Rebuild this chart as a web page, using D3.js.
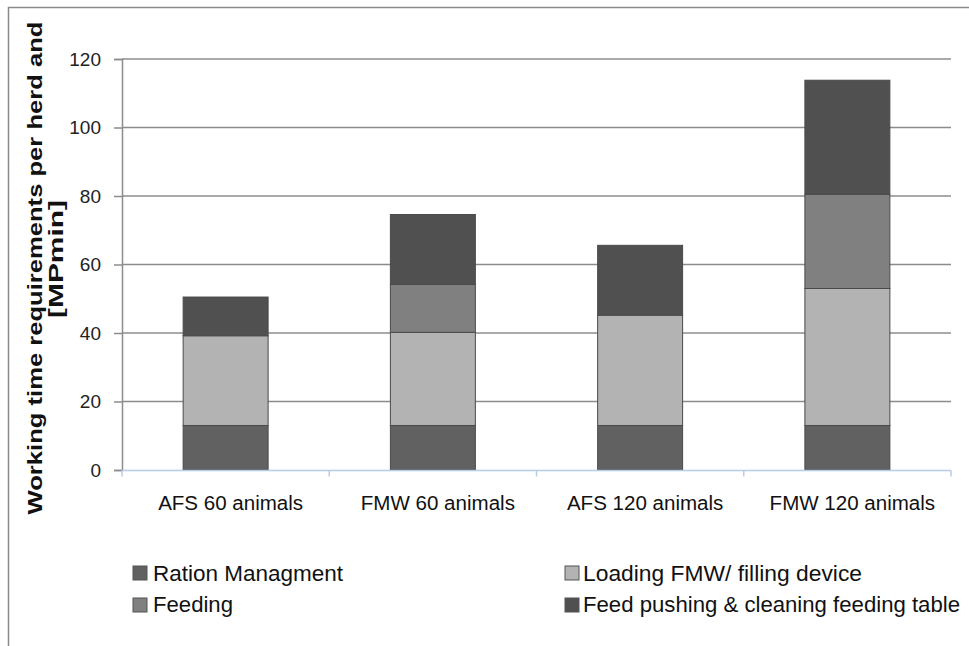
<!DOCTYPE html>
<html><head><meta charset="utf-8">
<script src="https://cdn.jsdelivr.net/npm/d3@7"></script>
<style>body{margin:0;background:#fff}svg{display:block}</style>
</head><body>
<svg id="c" width="969" height="646"></svg>
<script>
const categories = ["AFS 60 animals", "FMW 60 animals", "AFS 120 animals", "FMW 120 animals"];
const seriesNames = ["Ration Managment", "Loading FMW/ filling device", "Feeding", "Feed pushing & cleaning feeding table"];
const rationManagment = [13, 13, 13, 13];
const loadingFMW = [26.2, 27.2, 32.2, 40];
const feeding = [0, 14, 0, 27.5];
const feedPushing = [11.3, 20.4, 20.4, 33.3];
const yTicks = [0, 20, 40, 60, 80, 100, 120];
const colors = ["#616161", "#b3b3b3", "#808080", "#505050"];

const svg = d3.select("#c");
const font = "'Liberation Sans', Arial, sans-serif";

// outer frame
svg.append("path").attr("d", "M8.5,646 V7.5 H969").attr("fill", "none").attr("stroke", "#8a8a8a").attr("stroke-width", 1.5);

const x = d3.scaleBand().domain(categories).range([122, 951]).padding(0);
const y = d3.scaleLinear().domain([0, 120]).range([470, 59]);

// gridlines
svg.append("g").selectAll("line").data(yTicks.filter(d => d > 0)).join("line")
  .attr("x1", 122).attr("x2", 951)
  .attr("y1", d => y(d)).attr("y2", d => y(d))
  .attr("stroke", "#8c8c8c").attr("stroke-width", 1.5);

// y axis
const yAxis = svg.append("g").attr("transform", "translate(122,0)")
  .call(d3.axisLeft(y).tickValues(yTicks).tickSize(8).tickPadding(13));
yAxis.select(".domain").attr("stroke", "#8c8c8c").attr("stroke-width", 1.5);
yAxis.selectAll(".tick line").attr("stroke", "#8c8c8c").attr("stroke-width", 1.5);
yAxis.selectAll(".tick text").attr("font-family", font).attr("font-size", 19).attr("fill", "#222");

// stacked bars
const table = categories.map((c, i) => ({cat: c, s0: rationManagment[i], s1: loadingFMW[i], s2: feeding[i], s3: feedPushing[i]}));
const stack = d3.stack().keys(["s0", "s1", "s2", "s3"])(table);
const barW = x.bandwidth() * 0.41;
svg.append("g").selectAll("g").data(stack).join("g")
  .attr("fill", (d, i) => colors[i])
  .selectAll("rect").data(d => d.filter(p => p[1] - p[0] > 0)).join("rect")
  .attr("x", d => x(d.data.cat) + (x.bandwidth() - barW) / 2)
  .attr("width", barW)
  .attr("y", d => y(d[1]))
  .attr("height", d => y(d[0]) - y(d[1]))
  .attr("stroke", "#4a4a4a").attr("stroke-width", 1);

// x axis
const xAxisG = svg.append("g").attr("transform", "translate(0,470.5)");
xAxisG.append("line").attr("x1", 122).attr("x2", 951).attr("stroke", "#b8cbe8").attr("stroke-width", 1.5);
xAxisG.selectAll("line.t").data(categories.map(c => x(c)).concat([951])).join("line").attr("class", "t")
  .attr("x1", d => d).attr("x2", d => d).attr("y1", 0).attr("y2", 6)
  .attr("stroke", "#b8cbe8").attr("stroke-width", 1.5);
const xl = svg.append("g").selectAll("text").data(categories).join("text")
  .attr("x", d => x(d) + x.bandwidth() / 2 + 5).attr("y", 510)
  .attr("text-anchor", "middle").attr("font-family", font).attr("font-size", 20).attr("fill", "#111")
  .text(d => d);
const refLen = xl.nodes()[0].getComputedTextLength();
const ratio = 145 / refLen;
xl.each(function() { const n = this.getComputedTextLength(); d3.select(this).attr("textLength", n * ratio).attr("lengthAdjust", "spacingAndGlyphs"); });

// y title
const yt = svg.append("g").attr("font-family", font).attr("font-weight", "bold").attr("font-size", 20).attr("fill", "#111");
yt.append("text").attr("transform", "translate(42,268) rotate(-90)").attr("text-anchor", "middle")
  .attr("textLength", 493).attr("lengthAdjust", "spacingAndGlyphs")
  .text("Working time requirements per herd and");
yt.append("text").attr("transform", "translate(63,259) rotate(-90)").attr("text-anchor", "middle")
  .attr("textLength", 118).attr("lengthAdjust", "spacingAndGlyphs")
  .text("[MPmin]");

// legend
const legPos = [[133, 566, 153, 581, 190], [565, 566, 583, 581, 279], [133, 598, 153, 612, 80], [565, 598, 583, 612, 377]];
const leg = svg.append("g");
seriesNames.forEach((name, i) => {
  const p = legPos[i];
  leg.append("rect").attr("x", p[0]).attr("y", p[1]).attr("width", 14).attr("height", 14)
    .attr("fill", colors[i]).attr("stroke", "#555").attr("stroke-width", 1);
  leg.append("text").attr("x", p[2]).attr("y", p[3]).attr("font-family", font).attr("font-size", 22).attr("fill", "#111")
    .attr("textLength", p[4]).attr("lengthAdjust", "spacingAndGlyphs").text(name);
});
</script>
</body></html>
